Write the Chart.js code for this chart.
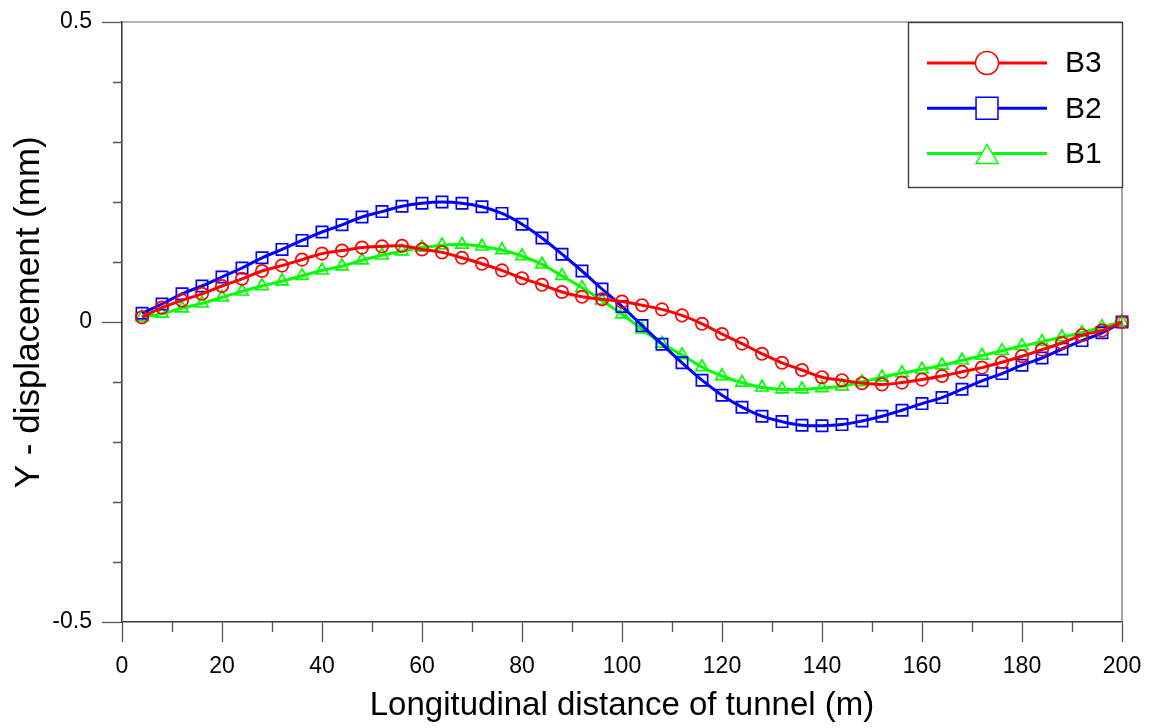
<!DOCTYPE html>
<html>
<head>
<meta charset="utf-8">
<script src="https://cdn.jsdelivr.net/npm/chart.js@4.4.1/dist/chart.umd.min.js"></script>
<style>
  html, body { margin: 0; padding: 0; background: #ffffff; }
  #wrap { width: 1150px; height: 728px; }
</style>
</head>
<body>
<div id="wrap"><canvas id="chart" width="1150" height="728"></canvas></div>
<script>
// Longitudinal distance along the tunnel (m)
const distance = [4, 8, 12, 16, 20, 24, 28, 32, 36, 40, 44, 48, 52, 56, 60, 64, 68, 72, 76, 80,
  84, 88, 92, 96, 100, 104, 108, 112, 116, 120, 124, 128, 132, 136, 140, 144, 148, 152, 156, 160,
  164, 168, 172, 176, 180, 184, 188, 192, 196, 200];

// Y - displacement (mm) for each borehole line
const b3 = [0.008, 0.024, 0.036, 0.047, 0.060, 0.072, 0.085, 0.094, 0.104, 0.114, 0.119, 0.124, 0.126, 0.127, 0.121, 0.116, 0.107, 0.097, 0.086, 0.073,
  0.062, 0.050, 0.042, 0.038, 0.034, 0.028, 0.021, 0.011, -0.003, -0.020, -0.036, -0.053, -0.068, -0.080, -0.092, -0.097, -0.102, -0.104, -0.101, -0.096,
  -0.090, -0.083, -0.076, -0.067, -0.057, -0.046, -0.035, -0.022, -0.014, 0.000];
const b2 = [0.0145, 0.030, 0.047, 0.060, 0.075, 0.090, 0.107, 0.121, 0.136, 0.150, 0.162, 0.175, 0.184, 0.193, 0.198, 0.200, 0.198, 0.192, 0.181, 0.163,
  0.140, 0.113, 0.085, 0.055, 0.026, -0.006, -0.037, -0.068, -0.097, -0.122, -0.142, -0.157, -0.166, -0.172, -0.173, -0.171, -0.165, -0.157, -0.147, -0.136,
  -0.126, -0.112, -0.098, -0.086, -0.072, -0.060, -0.045, -0.031, -0.018, 0.000];
const b1 = [0.008, 0.014, 0.023, 0.031, 0.041, 0.051, 0.060, 0.068, 0.077, 0.086, 0.093, 0.103, 0.111, 0.118, 0.124, 0.128, 0.129, 0.126, 0.120, 0.110,
  0.096, 0.077, 0.057, 0.036, 0.013, -0.012, -0.036, -0.055, -0.075, -0.090, -0.101, -0.109, -0.112, -0.112, -0.110, -0.107, -0.100, -0.092, -0.085, -0.079,
  -0.072, -0.064, -0.056, -0.048, -0.040, -0.033, -0.025, -0.018, -0.008, 0.000];

const seriesNames = ['B3', 'B2', 'B1'];
const seriesValues = [b3, b2, b1];
const seriesColors = ['#ff0000', '#0000ff', '#00ff00'];
const seriesMarkers = ['circle', 'rect', 'triangle'];
const markerRadius = [6.2, 8, 7.2];

// Axis tick labels
const xTickLabels = [0, 20, 40, 60, 80, 100, 120, 140, 160, 180, 200];
const yTickLabels = [-0.5, 0, 0.5];

const FONT = "'Liberation Sans', Arial, Helvetica, sans-serif";
const AXIS_COLOR = '#3c3c3c';

const datasets = seriesNames.map((name, i) => ({
  label: name,
  data: distance.map((d, k) => ({ x: d, y: seriesValues[i][k] })),
  borderColor: seriesColors[i],
  borderWidth: 3,
  tension: 0.4,
  pointStyle: seriesMarkers[i],
  pointRadius: markerRadius[i],
  pointBorderWidth: 1.7,
  pointBorderColor: seriesColors[i],
  pointBackgroundColor: 'rgba(255,255,255,0)',
  clip: false
}));

function near(a, b) { return Math.abs(a - b) < 1e-6; }

// Minor ticks, the top/right frame and the boxed legend
const framePlugin = {
  id: 'frame',
  afterDraw(chart) {
    const ctx = chart.ctx;
    const { left, right, top, bottom } = chart.chartArea;
    const xs = chart.scales.x, ys = chart.scales.y;
    ctx.save();
    // frame top and right
    ctx.strokeStyle = '#6a6a6a';
    ctx.lineWidth = 1.2;
    ctx.beginPath();
    ctx.moveTo(left, top); ctx.lineTo(right, top);
    ctx.moveTo(right, top); ctx.lineTo(right, bottom);
    ctx.stroke();
    // minor ticks
    ctx.strokeStyle = '#555';
    ctx.lineWidth = 1.3;
    ctx.beginPath();
    for (let v = 10; v < 200; v += 20) {
      const px = Math.round(xs.getPixelForValue(v)) + 0.5;
      ctx.moveTo(px, bottom); ctx.lineTo(px, bottom + 10);
    }
    [-0.4, -0.3, -0.2, -0.1, 0.1, 0.2, 0.3, 0.4].forEach(v => {
      const py = Math.round(ys.getPixelForValue(v)) + 0.5;
      ctx.moveTo(left, py); ctx.lineTo(left - 9, py);
    });
    ctx.stroke();

    // legend box
    const bx = 908, by = top, bw = right - 908, bh = 165;
    ctx.fillStyle = '#ffffff';
    ctx.fillRect(bx, by, bw, bh);
    ctx.strokeStyle = '#3c3c3c';
    ctx.lineWidth = 1.4;
    ctx.strokeRect(bx + 0.5, by + 0.5, bw, bh);
    const legendR = [11.5, 15.5, 12.7];
    const legendDy = [0, 0, 3.5];
    chart.data.datasets.forEach((ds, i) => {
      const y = by + 41 + i * 45.3;
      ctx.strokeStyle = ds.borderColor;
      ctx.lineWidth = 3;
      ctx.beginPath();
      ctx.moveTo(927, y); ctx.lineTo(1047, y);
      ctx.stroke();
      ctx.fillStyle = '#ffffff';
      ctx.strokeStyle = ds.borderColor;
      ctx.lineWidth = 1.5;
      Chart.helpers.drawPoint(ctx, { pointStyle: ds.pointStyle, radius: legendR[i], rotation: 0, borderWidth: 1.5 }, 987, y + legendDy[i]);
      ctx.fillStyle = '#000000';
      ctx.font = '30px ' + FONT;
      ctx.textAlign = 'left';
      ctx.textBaseline = 'middle';
      ctx.fillText(ds.label, 1065, y + 1);
    });
    ctx.restore();
  }
};

new Chart(document.getElementById('chart'), {
  type: 'line',
  data: { datasets },
  plugins: [framePlugin],
  options: {
    responsive: false,
    animation: false,
    devicePixelRatio: 1,
    layout: { padding: { top: 22, right: 28, left: 0, bottom: 0 } },
    plugins: { legend: { display: false }, tooltip: { enabled: false } },
    scales: {
      x: {
        type: 'linear',
        min: 0, max: 200,
        afterFit(scale) { scale.height = 106; scale.paddingLeft = 0; scale.paddingRight = 0; },
        afterBuildTicks(scale) { scale.ticks = xTickLabels.map(v => ({ value: v })); },
        ticks: {
          autoSkip: false, maxRotation: 0,
          color: '#000', padding: 11,
          font: { family: FONT, size: 23 },
          callback: v => String(v)
        },
        grid: { drawOnChartArea: false, drawTicks: true, tickLength: 20, tickColor: '#555', tickWidth: 1.3 },
        border: { display: true, color: AXIS_COLOR, width: 1.6 },
        title: {
          display: true, text: 'Longitudinal distance of tunnel (m)',
          color: '#000', font: { family: FONT, size: 33 }, padding: { top: 0, bottom: 2 }
        }
      },
      y: {
        type: 'linear',
        min: -0.5, max: 0.5,
        afterFit(scale) { scale.width = 122; scale.paddingTop = 0; scale.paddingBottom = 0; },
        afterBuildTicks(scale) { scale.ticks = yTickLabels.map(v => ({ value: v })); },
        ticks: {
          autoSkip: false,
          color: '#000', padding: 10,
          font: { family: FONT, size: 23 },
          callback: v => near(v, 0) ? '0' : v.toFixed(1)
        },
        grid: { drawOnChartArea: false, drawTicks: true, tickLength: 20, tickColor: '#555', tickWidth: 1.3 },
        border: { display: true, color: AXIS_COLOR, width: 1.6 },
        title: {
          display: true, text: '  Y - displacement (mm)',
          color: '#000', font: { family: FONT, size: 35 }, padding: { top: 8, bottom: 0 }
        }
      }
    }
  }
});
</script>
</body>
</html>
